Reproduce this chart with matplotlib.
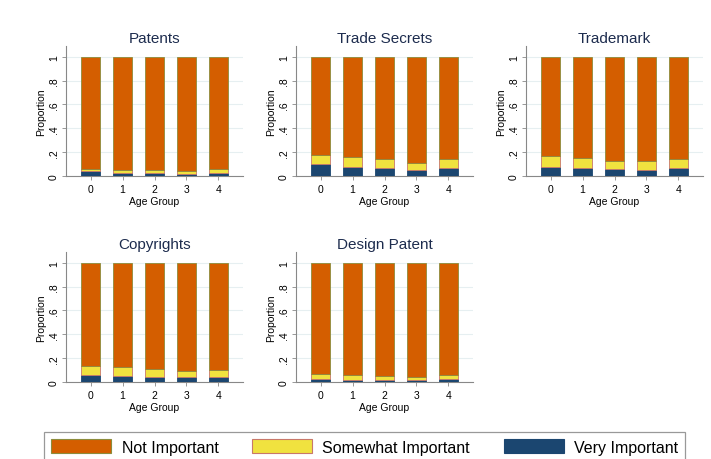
import matplotlib
matplotlib.use("Agg")
import matplotlib.pyplot as plt
from matplotlib.patches import Patch

plt.rcParams['font.family'] = ['Liberation Sans', 'DejaVu Sans']

age_groups = [0, 1, 2, 3, 4]
ytick_vals = [0, 0.2, 0.4, 0.6, 0.8, 1.0]
ytick_labels = ["0", ".2", ".4", ".6", ".8", "1"]
series_names = ["Not Important", "Somewhat Important", "Very Important"]

titles = ["Patents", "Trade Secrets", "Trademark", "Copyrights", "Design Patent"]

patents_very = [0.040, 0.025, 0.025, 0.020, 0.028]
patents_some = [0.020, 0.023, 0.025, 0.025, 0.028]
patents_not = [0.940, 0.952, 0.950, 0.955, 0.944]

trade_very = [0.098, 0.073, 0.070, 0.053, 0.067]
trade_some = [0.076, 0.087, 0.070, 0.059, 0.073]
trade_not = [0.826, 0.840, 0.860, 0.888, 0.860]

tm_very = [0.078, 0.067, 0.056, 0.053, 0.067]
tm_some = [0.090, 0.081, 0.073, 0.070, 0.073]
tm_not = [0.832, 0.852, 0.871, 0.877, 0.860]

copy_very = [0.061, 0.053, 0.045, 0.045, 0.045]
copy_some = [0.070, 0.070, 0.064, 0.047, 0.055]
copy_not = [0.869, 0.877, 0.891, 0.908, 0.900]

design_very = [0.028, 0.020, 0.017, 0.014, 0.022]
design_some = [0.040, 0.038, 0.033, 0.031, 0.038]
design_not = [0.932, 0.942, 0.950, 0.955, 0.940]

panels = [
    (patents_very, patents_some, patents_not),
    (trade_very, trade_some, trade_not),
    (tm_very, tm_some, tm_not),
    (copy_very, copy_some, copy_not),
    (design_very, design_some, design_not),
]

c_not = "#d45e00"
c_some = "#f0e23f"
c_very = "#1b4670"
e_not = "#8c8c3c"
e_some = "#c8786a"
e_very = "#1b4670"
title_color = "#1d2c4e"

W, H = 711, 460
fig = plt.figure(figsize=(W / 100, H / 100), dpi=100)

col_left = [66, 296, 526]
row_bottom = [177, 383]
ax_w = 177
ax_h = 130

for i, (title, (very, some, notimp)) in enumerate(zip(titles, panels)):
    r, c = divmod(i, 3)
    ax = fig.add_axes([col_left[c] / W, 1 - row_bottom[r] / H, ax_w / W, ax_h / H])
    bottom_some = list(very)
    bottom_not = [v + s for v, s in zip(very, some)]
    ax.bar(age_groups, very, width=0.6, color=c_very, edgecolor=e_very, linewidth=0.6, zorder=3)
    ax.bar(age_groups, some, width=0.6, bottom=bottom_some, color=c_some, edgecolor=e_some, linewidth=0.6, zorder=3)
    ax.bar(age_groups, notimp, width=0.6, bottom=bottom_not, color=c_not, edgecolor=e_not, linewidth=0.6, zorder=3)
    ax.set_xlim(-0.77, 4.77)
    ax.set_ylim(0, 1.09)
    ax.set_yticks(ytick_vals)
    ax.set_yticklabels(ytick_labels, rotation=90, va='center', fontsize=7.5)
    ax.set_xticks(age_groups)
    ax.set_xticklabels([str(a) for a in age_groups], fontsize=7.5)
    ax.tick_params(axis='y', length=3, width=0.6, color='#888888', pad=2)
    ax.tick_params(axis='x', length=3, width=0.6, color='#888888', pad=3)
    ax.yaxis.grid(True, color='#e6eff1', linewidth=0.8, zorder=0)
    ax.set_axisbelow(True)
    for s in ['top', 'right']:
        ax.spines[s].set_visible(False)
    for s in ['left', 'bottom']:
        ax.spines[s].set_color('#888888')
        ax.spines[s].set_linewidth(0.8)
    ax.set_ylabel("Proportion", fontsize=7.5, labelpad=2)
    ax.set_xlabel("Age Group", fontsize=7.5, labelpad=1)
    ax.set_title(title, fontsize=11, color=title_color, pad=3)

handles = [
    Patch(facecolor=c_not, edgecolor=e_not, linewidth=0.8),
    Patch(facecolor=c_some, edgecolor=e_some, linewidth=0.8),
    Patch(facecolor=c_very, edgecolor=e_very, linewidth=0.8),
]
leg = fig.legend(handles, series_names, loc='upper left',
                 bbox_to_anchor=(44 / W, 1 - 433 / H),
                 ncol=3, fontsize=11.5, frameon=True, fancybox=False,
                 handlelength=3.75, handleheight=1.0, handletextpad=0.66,
                 borderpad=0.45, borderaxespad=0, columnspacing=2.1)
leg.get_frame().set_edgecolor('#808080')
leg.get_frame().set_linewidth(0.9)

fig.savefig("out.png", dpi=100)
